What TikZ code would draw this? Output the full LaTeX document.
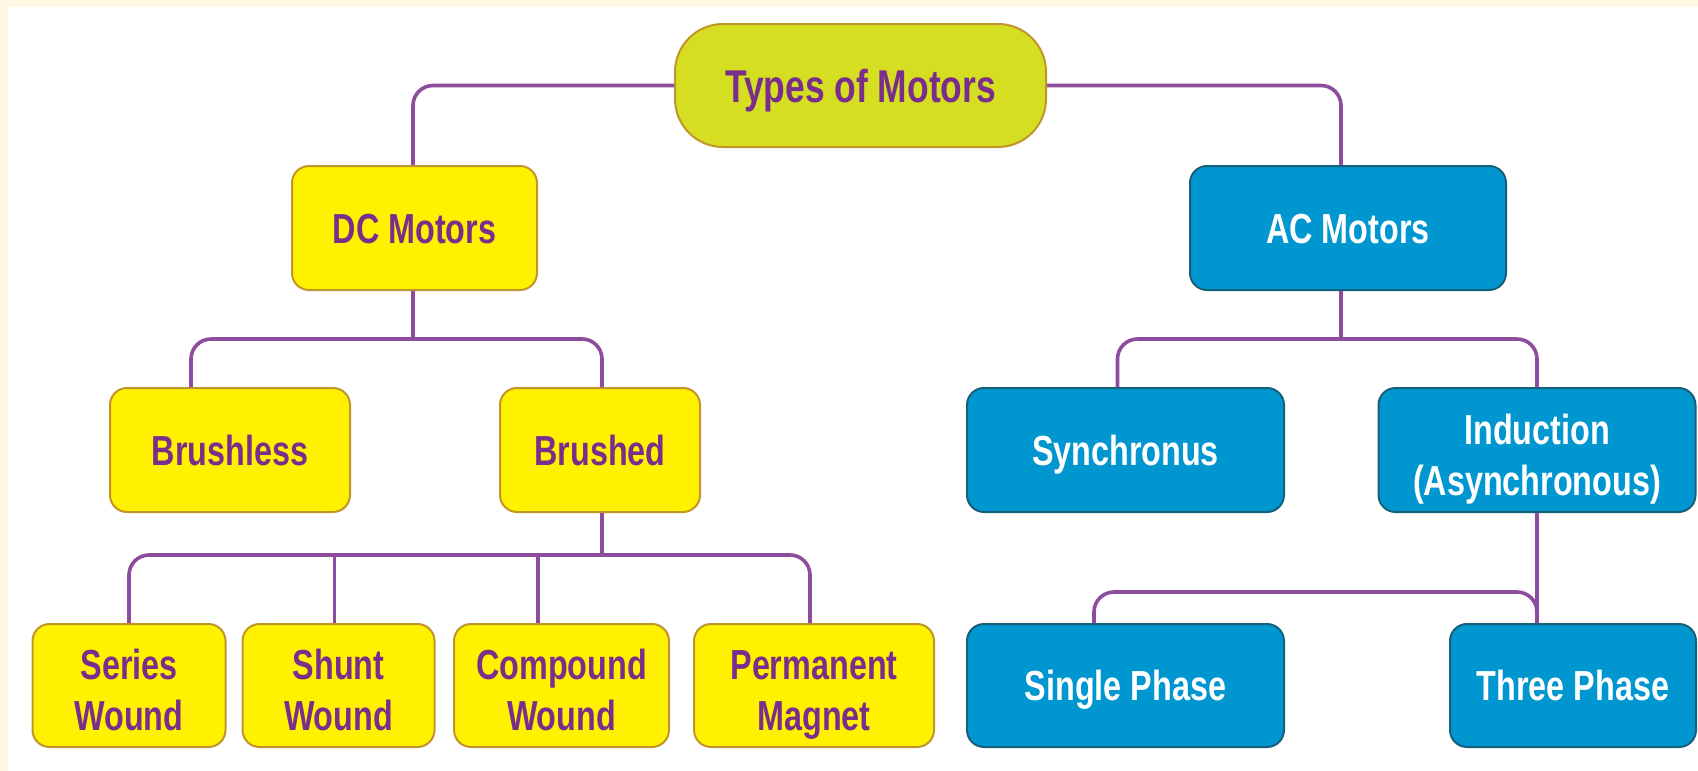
\documentclass[tikz,border=0pt]{standalone}
\usepackage{fontspec}
\setmainfont{Liberation Sans}[FakeStretch=0.77]
\definecolor{cream}{HTML}{FEF7E4}
\definecolor{ylw}{HTML}{FFF100}
\definecolor{ylwborder}{HTML}{C0962A}
\definecolor{ttl}{HTML}{D5DE21}
\definecolor{blu}{HTML}{0097D1}
\definecolor{bluborder}{HTML}{17607A}
\definecolor{txtpurple}{HTML}{7A2E8C}
\definecolor{connpurple}{HTML}{8E4C9C}
\tikzset{
  box/.style={draw, line width=2pt, rounded corners=17pt, minimum height=124pt,
    inner sep=0pt, align=center, font=\fontsize{42}{51}\selectfont\bfseries},
  ybox/.style={box, fill=ylw, draw=ylwborder, text=txtpurple},
  bbox/.style={box, fill=blu, draw=bluborder, text=white},
  one/.style={text height=30pt, text depth=0pt},
  two/.style={text height=90pt, text depth=0pt},
  conn/.style={draw=connpurple, line width=3.6pt, rounded corners=20pt},
}
\begin{document}
\begin{tikzpicture}[x=1pt,y=-1pt]
\useasboundingbox (0,0) rectangle (1698,771);
\fill[white] (0,0) rectangle (1698,771);
\fill[cream] (0,0) rectangle (1698,7);
\fill[cream] (0,0) rectangle (8,771);

\node[ybox, one, fill=ttl, minimum width=371pt, minimum height=123pt, rounded corners=48pt,
  font=\fontsize{46}{52}\selectfont\bfseries, text height=33pt] (tm) at (860.5,85.5) {Types of Motors};

\node[ybox, one, minimum width=245pt] (dc) at (414.5,228) {DC Motors};
\node[bbox, one, minimum width=316pt] (ac) at (1348,228) {AC Motors};

\node[ybox, one, minimum width=240pt] (brushless) at (230,450) {Brushless};
\node[ybox, one, minimum width=200pt] (brushed) at (600,450) {Brushed};
\node[bbox, one, minimum width=317pt] (sync) at (1125.5,450) {Synchronus};
\node[bbox, two, minimum width=317pt] (ind) at (1537,450) {Induction\\(Asynchronous)};

\node[ybox, two, minimum width=193pt, minimum height=123pt] (series) at (129,685.5) {Series\\Wound};
\node[ybox, two, minimum width=192pt, minimum height=123pt] (shunt) at (338.5,685.5) {Shunt\\Wound};
\node[ybox, two, minimum width=215pt, minimum height=123pt] (compound) at (561.5,685.5) {Compound\\Wound};
\node[ybox, two, minimum width=240pt, minimum height=123pt] (permanent) at (814,685.5) {Permanent\\Magnet};
\node[bbox, one, minimum width=317pt, minimum height=123pt] (single) at (1125.5,685.5) {Single Phase};
\node[bbox, one, minimum width=246pt, minimum height=123pt] (three) at (1573,685.5) {Three Phase};

% level 1
\draw[conn] (tm.west) -| ([xshift=-1.5pt]dc.north);
\draw[conn] (tm.east) -| ([xshift=-7pt]ac.north);

% DC children
\coordinate (dcbus) at ([xshift=-1.5pt]dc.south |- 0,339);
\draw[conn] ([xshift=-1.5pt]dc.south) -- (dcbus);
\draw[conn] ([xshift=-39pt]brushless.north) |- (dcbus) -| ([xshift=2pt]brushed.north);

% AC children
\coordinate (acbus) at ([xshift=-7pt]ac.south |- 0,339);
\draw[conn] ([xshift=-7pt]ac.south) -- (acbus);
\draw[conn] ([xshift=-8pt]sync.north) |- (acbus) -| (ind.north);

% Brushed children
\coordinate (brbus) at ([xshift=2pt]brushed.south |- 0,555);
\draw[conn] ([xshift=2pt]brushed.south) -- (brbus);
\draw[conn] (series.north) |- (brbus) -| ([xshift=-4pt]permanent.north);
\draw[conn] ([xshift=-4pt]shunt.north) -- ([xshift=-4pt]shunt.north |- brbus);
\draw[conn] ([xshift=-23.5pt]compound.north) -- ([xshift=-23.5pt]compound.north |- brbus);

% Induction children
\coordinate (indbus) at (ind.south |- 0,592);
\draw[conn] (ind.south) -- ([xshift=-36pt]three.north);
\draw[conn] ([xshift=-31.5pt]single.north) |- (indbus) -- ([xshift=-36pt]three.north);
\end{tikzpicture}
\end{document}
